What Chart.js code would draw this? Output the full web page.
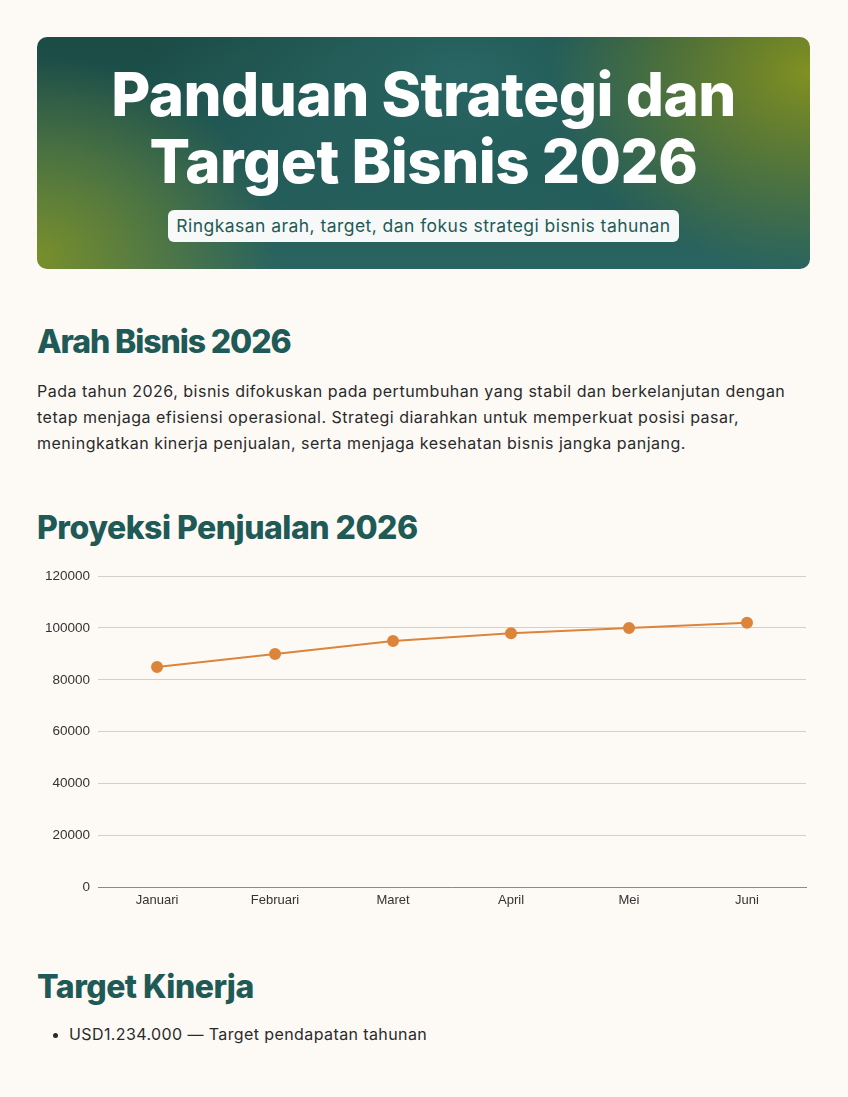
<!DOCTYPE html>
<html lang="id">
<head>
<meta charset="utf-8">
<title>Panduan Strategi dan Target Bisnis 2026</title>
<script src="https://cdn.jsdelivr.net/npm/chart.js@4.4.1/dist/chart.umd.min.js"></script>
<style>
  html, body { margin: 0; padding: 0; }
  body {
    background: #fdfaf6;
    font-family: "Inter", "Noto Sans", sans-serif;
    color: #2a2a2a;
    width: 848px;
  }
  .page { padding: 37px 38px 0 37px; }
  .hero {
    height: 232px;
    border-radius: 10px;
    position: relative;
    overflow: hidden;
    background:
      radial-gradient(ellipse 260px 200px at 100% 15%, rgba(135,148,32,0.95), rgba(135,148,32,0) 100%),
      radial-gradient(ellipse 240px 200px at 0% 95%, rgba(125,145,40,0.95), rgba(125,145,40,0) 100%),
      radial-gradient(ellipse 320px 170px at 55% 15%, rgba(42,104,102,0.9), rgba(42,104,102,0) 100%),
      linear-gradient(180deg, #1b4b45 0%, #225a57 60%, #2a6460 100%);
    text-align: center;
  }
  .hero h1 {
    margin: 0;
    padding-top: 24px;
    color: #ffffff;
    font-weight: 800;
    font-size: 60px;
    line-height: 67px;
    letter-spacing: -0.5px;
  }
  .pill {
    display: inline-block;
    margin-top: 15px;
    background: rgba(255,255,255,0.96);
    color: #1f5a57;
    border-radius: 6px;
    padding: 4px 8px;
    font-size: 17.5px;
    line-height: 24px;
    letter-spacing: 0.45px;
  }
  h2 {
    margin: 0;
    color: #1f5a57;
    font-weight: 800;
    font-size: 32px;
    line-height: 40px;
    letter-spacing: -0.5px;
  }
  .sec1 { margin-top: 53px; letter-spacing: -1.1px; }
  p {
    margin: 16px 0 0 0;
    font-size: 16px;
    line-height: 26px;
    letter-spacing: 0.5px;
    color: #2a2a2a;
  }
  .sec2 { margin-top: 52px; }
  .chart-wrap { position: relative; width: 777px; height: 353px; margin-top: 12px; }
  .sec3 { margin-top: 54px; }
  ul { margin: 15px 0 0 0; padding-left: 32px; font-size: 16px; line-height: 24px; letter-spacing: 0.4px; }
  li::marker { font-size: 14px; }
</style>
</head>
<body>
<div class="page">
  <div class="hero">
    <h1>Panduan Strategi dan<br>Target Bisnis 2026</h1>
    <div class="pill">Ringkasan arah, target, dan fokus strategi bisnis tahunan</div>
  </div>

  <h2 class="sec1">Arah Bisnis 2026</h2>
  <p>Pada tahun 2026, bisnis difokuskan pada pertumbuhan yang stabil dan berkelanjutan dengan tetap menjaga efisiensi operasional. Strategi diarahkan untuk memperkuat posisi pasar, meningkatkan kinerja penjualan, serta menjaga kesehatan bisnis jangka panjang.</p>

  <h2 class="sec2">Proyeksi Penjualan 2026</h2>
  <div class="chart-wrap"><canvas id="salesChart"></canvas></div>

  <h2 class="sec3">Target Kinerja</h2>
  <ul>
    <li>USD1.234.000 — Target pendapatan tahunan</li>
  </ul>
</div>

<script>
// data
const months = ['Januari', 'Februari', 'Maret', 'April', 'Mei', 'Juni'];
const salesValues = [85000, 90000, 95000, 98000, 100000, 102000];
const yMin = 0;
const yMax = 120000;
const yStep = 20000;

const lineColor = '#dc843a';

Chart.defaults.font.family = '"Liberation Sans", Arial, Helvetica, sans-serif';

new Chart(document.getElementById('salesChart'), {
  type: 'line',
  data: {
    labels: months,
    datasets: [{
      label: 'Penjualan',
      data: salesValues,
      borderColor: lineColor,
      backgroundColor: lineColor,
      borderWidth: 2,
      pointRadius: 5,
      pointHoverRadius: 6,
      tension: 0,
      fill: false
    }]
  },
  options: {
    responsive: true,
    maintainAspectRatio: false,
    animation: false,
    layout: { padding: { left: 0, right: 1 } },
    plugins: { legend: { display: false }, tooltip: { enabled: false } },
    scales: {
      x: {
        offset: true,
        grid: { display: false, drawTicks: false },
        border: { display: true, color: '#8a8a8a' },
        ticks: { color: '#333', font: { size: 13 }, padding: 5 }
      },
      y: {
        min: yMin,
        max: yMax,
        grid: { color: '#d3d0cb', drawTicks: false },
        border: { display: false },
        ticks: {
          stepSize: yStep,
          color: '#333',
          font: { size: 13.5 },
          padding: 8,
          callback: (v) => String(v)
        }
      }
    }
  }
});
</script>
</body>
</html>
